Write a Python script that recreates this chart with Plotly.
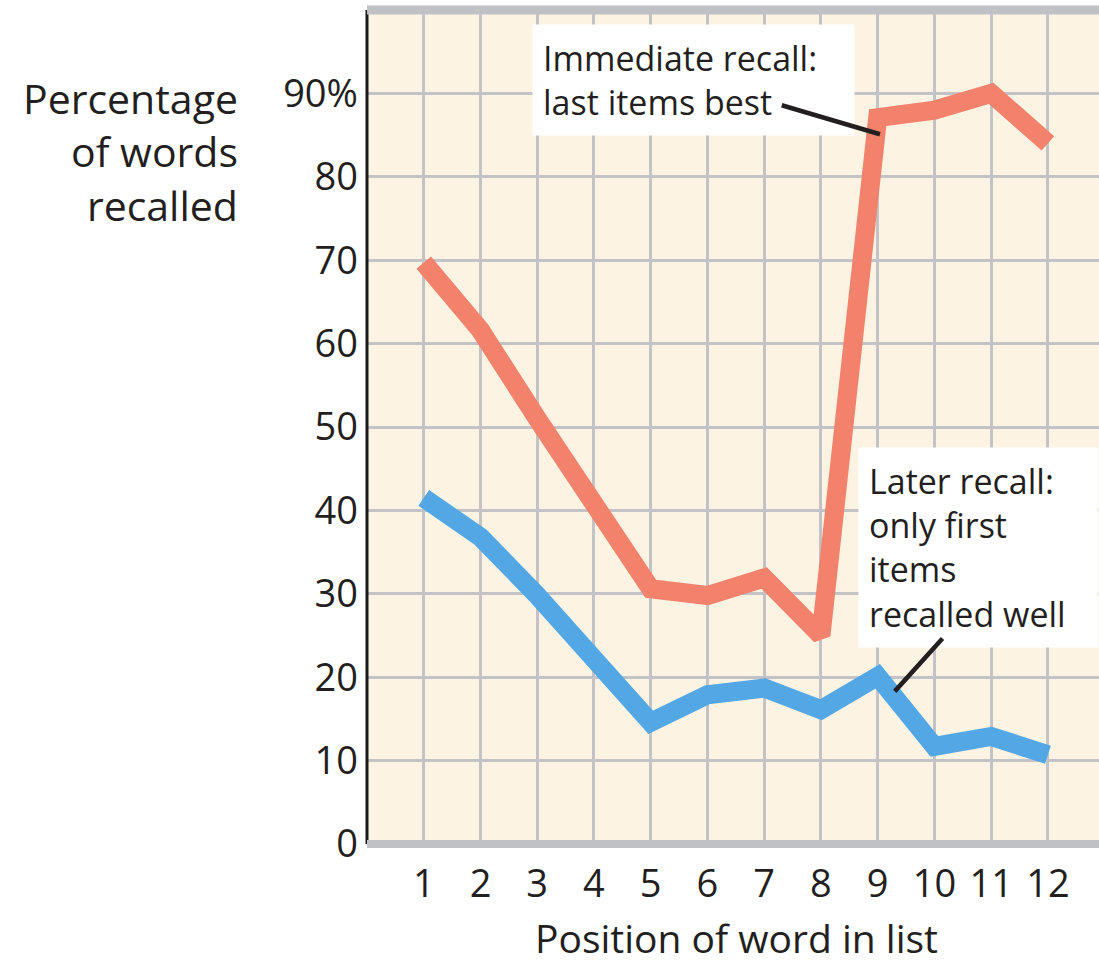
import plotly.graph_objects as go

# ---- data ----
positions = [1, 2, 3, 4, 5, 6, 7, 8, 9, 10, 11, 12]
immediate_recall = [69.7, 61.6, 51.0, 40.4, 30.6, 29.8, 31.9, 25.0, 87.1, 88.0, 90.0, 84.0]
later_recall = [41.5, 36.8, 29.8, 22.5, 14.6, 17.9, 18.7, 16.1, 20.1, 11.7, 12.9, 10.7]
y_tick_values = [0, 10, 20, 30, 40, 50, 60, 70, 80, 90]
y_tick_labels = ["0", "10", "20", "30", "40", "50", "60", "70", "80", "90%"]
x_tick_labels = [str(p) for p in positions]

immediate_label = ["Immediate recall:", "last items best"]
later_label = ["Later recall:", "only first", "items", "recalled well"]

# ---- style ----
FONT = "Open Sans"
TEXT = "#231f20"
GRID = "#c3c3c7"
BAND = "#c0c1c5"
BG = "#fdf3e2"
RED = "#f3826d"
BLUE = "#52a7e4"

fig = go.Figure()
fig.add_trace(go.Scatter(x=positions, y=immediate_recall, mode="lines",
                         line=dict(color=RED, width=19), hoverinfo="skip"))
fig.add_trace(go.Scatter(x=positions, y=later_recall, mode="lines",
                         line=dict(color=BLUE, width=19), hoverinfo="skip"))

shapes = [
    # left black axis
    dict(type="line", xref="paper", yref="paper", x0=0, x1=0, y0=0, y1=1,
         line=dict(color="#1a1a1a", width=3), layer="above"),
    # top and bottom grey bands
    dict(type="line", xref="paper", yref="paper", x0=0, x1=1, y0=1, y1=1,
         line=dict(color=BAND, width=9), layer="above"),
    dict(type="line", xref="paper", yref="paper", x0=0, x1=1, y0=0, y1=0,
         line=dict(color=BAND, width=8), layer="above"),
]

pointer = dict(text="", showarrow=True, arrowhead=0, arrowwidth=4.5, arrowcolor=TEXT,
               xref="x", yref="y", axref="x", ayref="y", standoff=0, startstandoff=0,
               borderpad=0)

annotations = [
    dict(text="<br>".join(immediate_label), x=2.90, y=91.56, xref="x", yref="y",
         xanchor="left", yanchor="middle", align="left", showarrow=False,
         width=301, borderpad=10, bgcolor="white",
         font=dict(family=FONT, size=34, color=TEXT)),
    dict(text="<br>".join(later_label), x=8.65, y=35.5, xref="x", yref="y",
         xanchor="left", yanchor="middle", align="left", showarrow=False,
         width=219, borderpad=10, bgcolor="white",
         font=dict(family=FONT, size=34, color=TEXT)),
    # pointer lines (drawn above the white boxes)
    dict(x=9.04, y=85.1, ax=7.30, ay=88.6, **pointer),
    dict(x=9.30, y=18.3, ax=10.15, ay=24.7, **pointer),
    # axis titles
    dict(text="Percentage<br>of words<br>recalled", xref="paper", yref="paper",
         x=-0.174, y=0.830, xanchor="right", yanchor="middle", align="right",
         showarrow=False, font=dict(family=FONT, size=41, color=TEXT)),
    dict(text="Position of word in list", xref="paper", yref="paper",
         x=0.5053, y=-0.1125, xanchor="center", yanchor="middle",
         showarrow=False, font=dict(family=FONT, size=39, color=TEXT)),
]

fig.update_layout(
    width=1099, height=965,
    margin=dict(l=367, r=0, t=10, b=120.5, pad=0),
    paper_bgcolor="white", plot_bgcolor=BG,
    showlegend=False,
    shapes=shapes, annotations=annotations,
    font=dict(family=FONT, color=TEXT),
    xaxis=dict(range=[0, 12.9], tickvals=positions, ticktext=x_tick_labels,
               showgrid=True, gridcolor=GRID, gridwidth=3, zeroline=False,
               showline=False, ticks="", ticklabelstandoff=14,
               tickfont=dict(family=FONT, size=38, color=TEXT), fixedrange=True),
    yaxis=dict(range=[0, 100], tickvals=y_tick_values, ticktext=y_tick_labels,
               showgrid=True, gridcolor=GRID, gridwidth=3, zeroline=False,
               showline=False, ticks="", ticklabelstandoff=8,
               tickfont=dict(family=FONT, size=38, color=TEXT), fixedrange=True),
)

fig.write_html("out.html", config={"displayModeBar": False},
               post_script="document.body.style.margin='0px';document.body.style.overflow='hidden';")
